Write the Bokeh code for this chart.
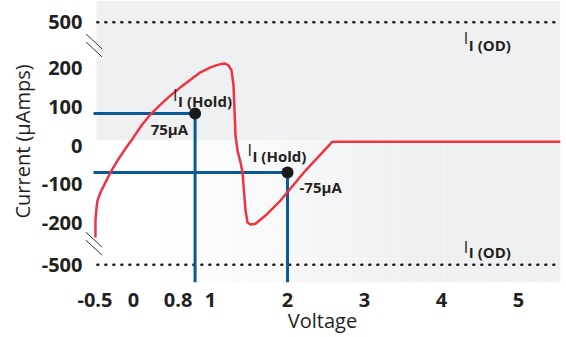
import numpy as np
from bokeh.plotting import figure
from bokeh.models import FixedTicker
from bokeh.core.properties import value
from bokeh.embed import file_html
from bokeh.resources import INLINE

# ---------------- data ----------------
voltage = [-0.494, -0.494, -0.481, -0.468, -0.429, -0.377, -0.299, -0.208, -0.104, 0.0,
           0.104, 0.221, 0.351, 0.481, 0.610, 0.740, 0.870, 1.0, 1.104, 1.182,
           1.234, 1.273, 1.299, 1.312, 1.325, 1.351, 1.390, 1.416, 1.429, 1.455,
           1.481, 1.519, 1.584, 1.714, 1.909, 2.234, 2.584, 5.545]
current = [-239, -195, -164, -143, -122, -101, -70, -39, -8, 21,
           52, 81, 106, 130, 151, 171, 190, 203, 210, 213,
           208, 195, 156, 91, 26, -13, -44, -70, -104, -169,
           -200, -205, -203, -182, -143, -65, 10, 10]

hold_voltage = [0.8, 2.0]
hold_current = [83, -70]
hold_value_labels = ["75µA", "-75µA"]

x_tick_values = [-0.5, 0, 0.8, 1, 2, 3, 4, 5]
x_tick_labels = ["-0.5", "0", "0.8", "1", "2", "3", "4", "5"]
y_tick_values = [500, 200, 100, 0, -100, -200, -500]
y_tick_labels = ["500", "200", "100", "0", "-100", "-200", "-500"]
od_levels = [500, -500]

# ---------------- layout / style ----------------
X0, X1 = -0.6364, 5.5455
Y0, Y1 = -355.8, 376.6
PX_PER_V = 77.0
break_display = {500: 320, -500: -310}     # where the broken-axis values are drawn
x_label_nudge_px = {0.8: -17}              # label moved left so it clears "1"
band_left = -0.48
band_split = 13
TY = -5  # text vertical correction (px)

def ydisp(v):
    return break_display.get(v, v)

FONTNAME = "Open Sans"
FONT = value(FONTNAME)
TXT = "#231f20"
BLUE = "#0b5a97"
RED = "#ef3340"
GRAY = (239, 240, 242)

p = figure(width=566, height=337, x_range=(X0, X1), y_range=(Y0, Y1),
           output_backend="svg", toolbar_location=None,
           min_border_left=84, min_border_right=6, min_border_top=0, min_border_bottom=55)
p.outline_line_color = None
p.grid.visible = False
p.background_fill_color = "white"

# background bands
p.quad(left=[band_left], right=[X1], bottom=[band_split], top=[Y1],
       fill_color="#eff0f2", line_color=None)
n = 80
edges = np.linspace(band_left, X1, n + 1)
xa, xb = 0.2, 3.6
cols = []
for i in range(n):
    xm = 0.5 * (edges[i] + edges[i + 1])
    t = min(max((xm - xa) / (xb - xa), 0.0), 1.0)
    c = tuple(int(round(255 + (g - 255) * t)) for g in GRAY)
    cols.append("#%02x%02x%02x" % c)
p.quad(left=edges[:-1], right=edges[1:] + 0.002, bottom=Y0, top=band_split,
       fill_color=cols, line_color=None)

# dotted OD lines
for lv in od_levels:
    p.line(x=[band_left + 0.01, X1], y=[ydisp(lv)] * 2, line_dash="1 7",
           line_width=2.5, line_cap="round", line_color="#222222")

# axis break marks
for lo, hi in [(200, 500), (-200, -500)]:
    yc = 0.5 * (ydisp(lo) + ydisp(hi))
    xc = X0 + 9.5 / PX_PER_V
    dx = 8 / PX_PER_V
    dy = 7.5 / 0.385
    for off in (-4 / 0.385, 4 / 0.385):
        p.segment(x0=[xc - dx], y0=[yc + off + dy], x1=[xc + dx], y1=[yc + off - dy],
                  line_color="#333333", line_width=1)

# hold lines
hx0 = X0 + 9 / PX_PER_V
p.segment(x0=[hx0] * 2, y0=hold_current, x1=hold_voltage, y1=hold_current,
          line_color=BLUE, line_width=3)
p.segment(x0=hold_voltage, y0=hold_current, x1=hold_voltage, y1=[Y0] * 2,
          line_color=BLUE, line_width=3)

# curve
p.line(voltage, current, line_color=RED, line_width=2.5, line_join="round")

# hold points
p.scatter(hold_voltage, hold_current, size=12, fill_color="#1a1a1a", line_color=None)

# annotations
big_dx = [-22, -40]
big_dy = [-14 + TY, -17 + TY]
for i in range(2):
    p.text(x=[hold_voltage[i]], y=[hold_current[i]], text=["I"],
           x_offset=big_dx[i], y_offset=big_dy[i], text_font=FONT,
           text_font_size="16px", text_color=TXT, text_baseline="alphabetic")
    p.text(x=[hold_voltage[i]], y=[hold_current[i]], text=["I (Hold)"],
           x_offset=big_dx[i] + 5, y_offset=big_dy[i] + 6, text_font=FONT,
           text_font_style="bold", text_font_size="15px", text_color=TXT,
           text_baseline="alphabetic")
p.text(x=[hold_voltage[0]], y=[hold_current[0]], text=[hold_value_labels[0]],
       x_offset=-7, y_offset=20 + TY, text_align="right", text_font=FONT,
       text_font_style="bold", text_font_size="15px", text_color=TXT,
       text_baseline="alphabetic")
p.text(x=[hold_voltage[1]], y=[hold_current[1]], text=[hold_value_labels[1]],
       x_offset=12, y_offset=20 + TY, text_align="left", text_font=FONT,
       text_font_style="bold", text_font_size="15px", text_color=TXT,
       text_baseline="alphabetic")

od_x = 4.29
for lv, dyb, dys in [(500, 21 + TY, 28 + TY), (-500, -13 + TY, -8 + TY)]:
    p.text(x=[od_x], y=[ydisp(lv)], text=["I"], y_offset=dyb, text_font=FONT,
           text_font_size="16px", text_color=TXT, text_baseline="alphabetic")
    p.text(x=[od_x], y=[ydisp(lv)], text=["I (OD)"], x_offset=5, y_offset=dys,
           text_font=FONT, text_font_style="bold", text_font_size="15px",
           text_color=TXT, text_baseline="alphabetic")

# axes
xt_pos = [v + x_label_nudge_px.get(v, 0) / PX_PER_V for v in x_tick_values]
yt_pos = [ydisp(v) for v in y_tick_values]
xa_ = p.xaxis[0]
ya_ = p.yaxis[0]
xa_.ticker = FixedTicker(ticks=xt_pos)
xa_.major_label_overrides = {pos: lab for pos, lab in zip(xt_pos, x_tick_labels)}
ya_.ticker = FixedTicker(ticks=yt_pos)
ya_.major_label_overrides = {pos: lab for pos, lab in zip(yt_pos, y_tick_labels)}
for ax in (xa_, ya_):
    ax.axis_line_color = None
    ax.major_tick_line_color = None
    ax.minor_tick_line_color = None
    ax.major_tick_out = 0
    ax.major_label_text_font = FONTNAME
    ax.major_label_text_font_style = "bold"
    ax.major_label_text_font_size = "20px"
    ax.major_label_text_color = TXT
    ax.axis_label_text_font = FONTNAME
    ax.axis_label_text_font_style = "normal"
    ax.axis_label_text_font_size = "20px"
    ax.axis_label_text_color = TXT
xa_.axis_label = "Voltage"
ya_.axis_label = "Current (µAmps)"
xa_.major_label_standoff = 10
xa_.axis_label_standoff = -3
ya_.major_label_standoff = 2
ya_.axis_label_standoff = 3

open("out.html", "w").write(file_html(p, INLINE))
